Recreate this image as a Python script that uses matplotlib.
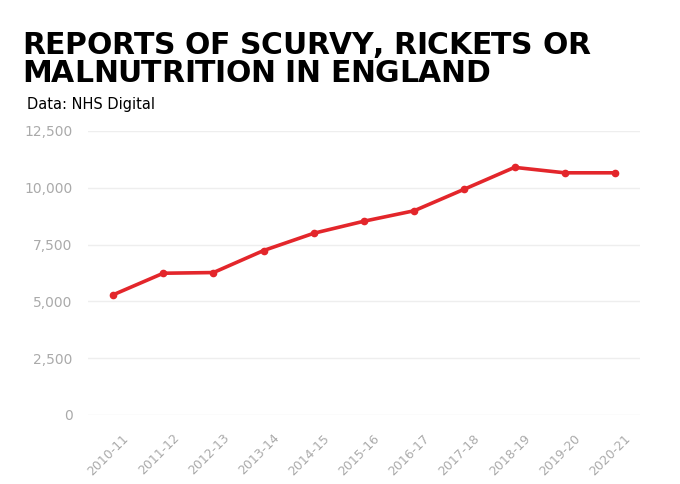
import matplotlib
matplotlib.use("Agg")
import matplotlib.pyplot as plt
from matplotlib.ticker import FuncFormatter
from matplotlib.transforms import ScaledTranslation
from matplotlib import font_manager as fm

years = ["2010-11", "2011-12", "2012-13", "2013-14", "2014-15", "2015-16",
         "2016-17", "2017-18", "2018-19", "2019-20", "2020-21"]
reports = [5290, 6240, 6270, 7240, 8000, 8530, 8990, 9940, 10900, 10660, 10660]
yticks = [0, 2500, 5000, 7500, 10000, 12500]
title_lines = ["REPORTS OF SCURVY, RICKETS OR", "MALNUTRITION IN ENGLAND"]
subtitle = "Data: NHS Digital"

W, H = 680, 484
fig = plt.figure(figsize=(W/100, H/100), dpi=100)
ax = fig.add_axes([88/W, 1-415/H, (640-88)/W, (415-131)/H])

x = list(range(len(years)))
ax.plot(x, reports, color="#e3262b", lw=2.6, marker="o", ms=4.5, clip_on=False, zorder=3)

ax.set_xlim(-0.5, len(years)-0.5)
ax.set_ylim(0, 12500)
ax.set_yticks(yticks)
ax.yaxis.set_major_formatter(FuncFormatter(lambda v, p: f"{int(v):,}"))
ax.set_xticks(x)
ax.set_xticklabels(years, rotation=45, ha="right", va="top", rotation_mode="anchor")

for s in ax.spines.values():
    s.set_visible(False)
ax.grid(axis="y", color="#eeeeee", lw=1)
ax.set_axisbelow(True)
ax.tick_params(length=0, labelcolor="#aaaaaa")
ax.tick_params(axis="y", pad=11, labelsize=10)
ax.tick_params(axis="x", pad=12, labelsize=9)
off = ScaledTranslation(9/100, 0, fig.dpi_scale_trans)
for lbl in ax.get_xticklabels():
    lbl.set_transform(lbl.get_transform() + off)
for lbl in ax.get_xticklabels() + ax.get_yticklabels():
    lbl.set_family(["DejaVu Sans"])

# Letter-spaced title, drawn glyph by glyph
def pick_family():
    for fam in ["Liberation Sans Narrow", "DejaVu Sans"]:
        try:
            fm.findfont(fm.FontProperties(family=fam, weight="bold"), fallback_to_default=False)
            return fam
        except Exception:
            pass
    return "DejaVu Sans"

fam = pick_family()
fsize = 21.5
fp = fm.FontProperties(family=fam, weight="bold", size=fsize)
renderer = fig.canvas.get_renderer()

def char_w(c):
    if c == " ":
        w1, _, _ = renderer.get_text_width_height_descent("A A", fp, ismath=False)
        w2, _, _ = renderer.get_text_width_height_descent("AA", fp, ismath=False)
        return w1 - w2
    w, _, _ = renderer.get_text_width_height_descent(c, fp, ismath=False)
    return w

x0, x1 = 22, 590
widths0 = [char_w(c) for c in title_lines[0]]
track = (x1 - x0 - sum(widths0)) / (len(title_lines[0]) - 1)
baselines = [53.5, 81.5]
for line, yb in zip(title_lines, baselines):
    xp = x0
    for c in line:
        w = char_w(c)
        if c != " ":
            fig.text(xp/W, 1-yb/H, c, fontproperties=fp, color="black",
                     ha="left", va="baseline")
        xp += w + track

fig.text(27/W, 1-104/H, subtitle, fontsize=10.5, color="black",
         family=["DejaVu Sans"], ha="left", va="center")

fig.savefig("out.png", dpi=100, facecolor="white")
